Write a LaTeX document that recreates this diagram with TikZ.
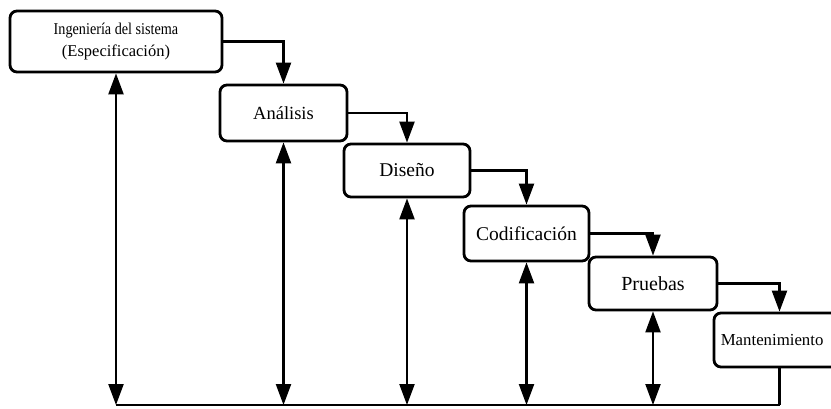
\documentclass[tikz,border=0pt]{standalone}
\usepackage{fontspec}
\setmainfont{Liberation Serif}
\usetikzlibrary{arrows.meta}
\begin{document}
\begin{tikzpicture}[x=1pt,y=-1pt,
  phase/.style={draw=black,line width=2.8pt,rounded corners=7pt,fill=white,
    inner sep=0pt,align=center},
  flow/.style={draw=black,line width=2.2pt,-{Triangle[length=21pt,width=15pt]}},
  feedback/.style={draw=black,line width=2.2pt,
    {Triangle[length=21pt,width=15pt]}-{Triangle[length=21pt,width=15pt]}},
  plain/.style={draw=black,line width=2.2pt}]
\useasboundingbox (0,0) rectangle (831,408);
\clip (0,0) rectangle (831,408);

% phases of the life cycle
\node[phase,minimum width=212pt,minimum height=61pt,
  font=\fontsize{16.5}{22}\selectfont] (ing) at (116,41.5)
  {\scalebox{0.86}[1]{Ingeniería del sistema}\\(Especificación)};
\node[phase,minimum width=127pt,minimum height=56pt,
  font=\fontsize{18.5}{20}\selectfont] (ana) at (283.5,113) {Análisis};
\node[phase,minimum width=126pt,minimum height=53pt,
  font=\fontsize{19.5}{20}\selectfont] (dis) at (407,170.5) {Diseño};
\node[phase,minimum width=125pt,minimum height=55pt,
  font=\fontsize{19.5}{20}\selectfont] (cod) at (526.5,233.5) {Codificación};
\node[phase,minimum width=128pt,minimum height=53pt,
  font=\fontsize{20}{20}\selectfont] (pru) at (653,283.5) {Pruebas};
\node[phase,minimum width=131pt,minimum height=54pt] (man) at (779.5,340) {};
\node[anchor=west,inner sep=0pt,font=\fontsize{16.8}{20}\selectfont]
  (mantxt) at ([xshift=8pt]man.west) {Mantenimiento};

% common return line
\coordinate (base) at (0,405);

% cascade from one phase to the next
\draw[flow] (ing.east) -| (ana.north);
\draw[flow] (ana.east) -| (dis.north);
\draw[flow] (dis.east) -| (cod.north);
\draw[flow] (cod.east) -| (pru.north);
\draw[flow] (pru.east) -| (man.north);

% feedback to every phase
\draw[plain] (ing.south |- base) -- (man.south |- base);
\draw[plain] (man.south) -- (man.south |- base);
\foreach \p in {ing,ana,dis,cod,pru}
  \draw[feedback] (\p.south |- base) -- (\p.south);
\end{tikzpicture}
\end{document}
